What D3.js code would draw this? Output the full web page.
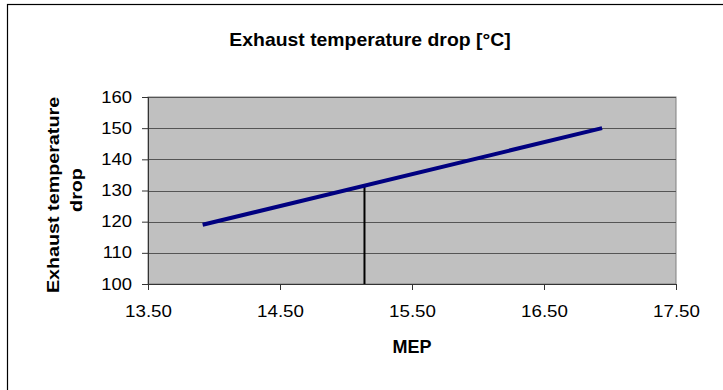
<!DOCTYPE html>
<html>
<head>
<meta charset="utf-8">
<script src="https://cdn.jsdelivr.net/npm/d3@7"></script>
<style>
  html, body { margin: 0; padding: 0; background: #fff; }
  svg { display: block; font-family: "Liberation Sans", Arial, sans-serif; }
</style>
</head>
<body>
<svg id="chart" width="723" height="390"></svg>
<script>
// Exhaust temperature drop vs. mean effective pressure
const mepValues = [13.914, 16.94];
const tempDrop = [119, 150];
const markerMep = [15.14];
const xTicks = [13.5, 14.5, 15.5, 16.5, 17.5];
const yTicks = [100, 110, 120, 130, 140, 150, 160];

const svg = d3.select("#chart");
const plot = { left: 148, right: 676, top: 97, bottom: 284 };

// widen a text element along its writing direction
function stretch(sel, factor) {
  sel.each(function () {
    const len = this.getComputedTextLength();
    d3.select(this).attr("textLength", len * factor).attr("lengthAdjust", "spacingAndGlyphs");
  });
}

// outer chart frame
svg.append("rect")
  .attr("x", 7.5).attr("y", 4.5)
  .attr("width", 740).attr("height", 400)
  .attr("fill", "#fff").attr("stroke", "#000").attr("stroke-width", 1.2);

const x = d3.scaleLinear().domain([13.5, 17.5]).range([plot.left, plot.right]);
const y = d3.scaleLinear().domain([100, 160]).range([plot.bottom, plot.top]);

// plot background
svg.append("rect")
  .attr("x", plot.left).attr("y", plot.top)
  .attr("width", plot.right - plot.left).attr("height", plot.bottom - plot.top)
  .attr("fill", "#c0c0c0").attr("stroke", "#808080").attr("stroke-width", 1);

// horizontal gridlines
svg.append("g").selectAll("line").data(yTicks).join("line")
  .attr("x1", plot.left).attr("x2", plot.right)
  .attr("y1", d => Math.round(y(d)) + 0.5).attr("y2", d => Math.round(y(d)) + 0.5)
  .attr("stroke", "#555").attr("stroke-width", 1);

// y axis
const yAxis = svg.append("g")
  .attr("transform", `translate(${plot.left},0)`)
  .call(d3.axisLeft(y).tickValues(yTicks).tickFormat(d3.format("d")).tickSize(6).tickPadding(10));
yAxis.select(".domain").attr("stroke", "#333");
yAxis.selectAll(".tick line").attr("stroke", "#333");
yAxis.selectAll("text").attr("font-size", 16).attr("fill", "#000")
  .attr("font-family", "Liberation Sans, Arial, sans-serif")
  .call(stretch, 1.15);

// x axis
const xAxis = svg.append("g")
  .attr("transform", `translate(0,${plot.bottom})`)
  .call(d3.axisBottom(x).tickValues(xTicks).tickFormat(d3.format(".2f")).tickSize(6).tickPadding(16));
xAxis.select(".domain").attr("stroke", "#333");
xAxis.selectAll(".tick line").attr("stroke", "#333");
xAxis.selectAll("text").attr("font-size", 16).attr("fill", "#000")
  .attr("font-family", "Liberation Sans, Arial, sans-serif")
  .call(stretch, 1.17);

// vertical marker from the axis up to the curve
const slope = (tempDrop[1] - tempDrop[0]) / (mepValues[1] - mepValues[0]);
svg.append("g").selectAll("line").data(markerMep).join("line")
  .attr("x1", d => x(d)).attr("x2", d => x(d))
  .attr("y1", y(100))
  .attr("y2", d => y(tempDrop[0] + slope * (d - mepValues[0])))
  .attr("stroke", "#000").attr("stroke-width", 2);

// data line
const pts = mepValues.map((m, i) => [m, tempDrop[i]]);
svg.append("path")
  .datum(pts)
  .attr("d", d3.line().x(d => x(d[0])).y(d => y(d[1])))
  .attr("fill", "none").attr("stroke", "#000080").attr("stroke-width", 4)
  .attr("stroke-linecap", "butt");

// title
svg.append("text")
  .attr("x", 370).attr("y", 46)
  .attr("text-anchor", "middle")
  .attr("font-size", 19).attr("font-weight", "bold")
  .text("Exhaust temperature drop [°C]")
  .call(stretch, 1.02);

// x axis title
svg.append("text")
  .attr("x", x(15.5)).attr("y", 353)
  .attr("text-anchor", "middle")
  .attr("font-size", 18).attr("font-weight", "bold")
  .text("MEP");

// y axis title (two lines)
svg.append("text")
  .attr("transform", "translate(59,195) rotate(-90)")
  .attr("text-anchor", "middle")
  .attr("font-size", 17).attr("font-weight", "bold")
  .text("Exhaust temperature")
  .call(stretch, 1.16);
svg.append("text")
  .attr("transform", "translate(82,190) rotate(-90)")
  .attr("text-anchor", "middle")
  .attr("font-size", 17).attr("font-weight", "bold")
  .text("drop")
  .call(stretch, 1.16);
</script>
</body>
</html>
